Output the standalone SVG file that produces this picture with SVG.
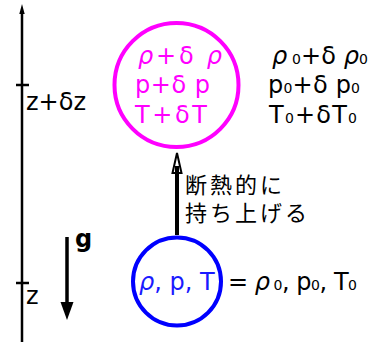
<svg xmlns="http://www.w3.org/2000/svg" width="387" height="342" viewBox="0 0 387 342">
<style>
.t{font-family:"DejaVu Sans","Liberation Sans",sans-serif;font-size:24px;}
.sub{font-size:14px;}
.mg{fill:#ff00ff;}
.bl{fill:#1a1aff;}
.bk{fill:#000;}
.jp{font-family:"Noto Sans CJK JP",sans-serif;font-size:22px;letter-spacing:3px;fill:#000;}
.gr{font-style:italic;}
</style>
<rect width="387" height="342" fill="#fff"/>
<g id="axis">
<line x1="22" y1="342" x2="22" y2="11" stroke="#000" stroke-width="2.5"/>
<polygon points="22,4 19.3,14 24.7,14" fill="#000"/>
<line x1="16" y1="85" x2="29" y2="85" stroke="#000" stroke-width="2.5"/>
<line x1="16" y1="283" x2="29" y2="283" stroke="#000" stroke-width="2.5"/>
<text class="t bk" x="26" y="110" font-size="22" textLength="60" lengthAdjust="spacing">z+δz</text>
<text class="t bk" x="26" y="304" font-size="22">z</text>
</g>
<g id="gravity">
<line x1="67" y1="237" x2="67" y2="305" stroke="#000" stroke-width="3.5"/>
<polygon points="60.5,302 73.5,302 67,320" fill="#000"/>
<text class="t bk" x="75" y="247" font-weight="bold" font-size="22">g</text>
</g>
<g id="upper-parcel">
<circle cx="176.5" cy="85" r="62" fill="none" stroke="#ff00ff" stroke-width="4"/>
<text class="t mg" x="138" y="64" textLength="84" lengthAdjust="spacing"><tspan class="gr">ρ</tspan>+δ <tspan class="gr">ρ</tspan></text>
<text class="t mg" x="135" y="93" textLength="75" lengthAdjust="spacing">p+δ p</text>
<text class="t mg" x="135" y="123" textLength="72" lengthAdjust="spacing">T+δT</text>
</g>
<g id="upper-env">
<text class="t bk" x="272" y="64" textLength="96" lengthAdjust="spacing"><tspan class="gr">ρ</tspan><tspan class="sub"> 0</tspan>+δ <tspan class="gr">ρ</tspan><tspan class="sub">0</tspan></text>
<text class="t bk" x="268" y="93" textLength="92" lengthAdjust="spacing">p<tspan class="sub">0</tspan>+δ p<tspan class="sub">0</tspan></text>
<text class="t bk" x="269" y="123" textLength="88" lengthAdjust="spacing">T<tspan class="sub">0</tspan>+δT<tspan class="sub">0</tspan></text>
</g>
<g id="lower-parcel">
<circle cx="177" cy="281.5" r="44" fill="none" stroke="#0000ff" stroke-width="4"/>
<text class="t bl" x="139" y="290" font-size="23"><tspan class="gr">ρ</tspan>, p, T</text>
</g>
<g id="lower-env">
<text class="t bk" x="228" y="290" textLength="129" lengthAdjust="spacing">= <tspan class="gr">ρ</tspan><tspan class="sub"> 0</tspan>, p<tspan class="sub">0</tspan>, T<tspan class="sub">0</tspan></text>
</g>
<g id="connectors">
<line x1="177" y1="235" x2="177" y2="166" stroke="#000" stroke-width="4"/>
<path d="M172.5,173 L177,153 L181.5,173 Z" fill="#fff" stroke="#000" stroke-width="2" stroke-linejoin="miter"/>
<line x1="177" y1="175" x2="177" y2="166" stroke="#000" stroke-width="4"/>
</g>
<g id="label">
<text class="jp" x="185" y="193">断熱的に</text>
<text class="jp" x="185" y="221">持ち上げる</text>
</g>
</svg>
